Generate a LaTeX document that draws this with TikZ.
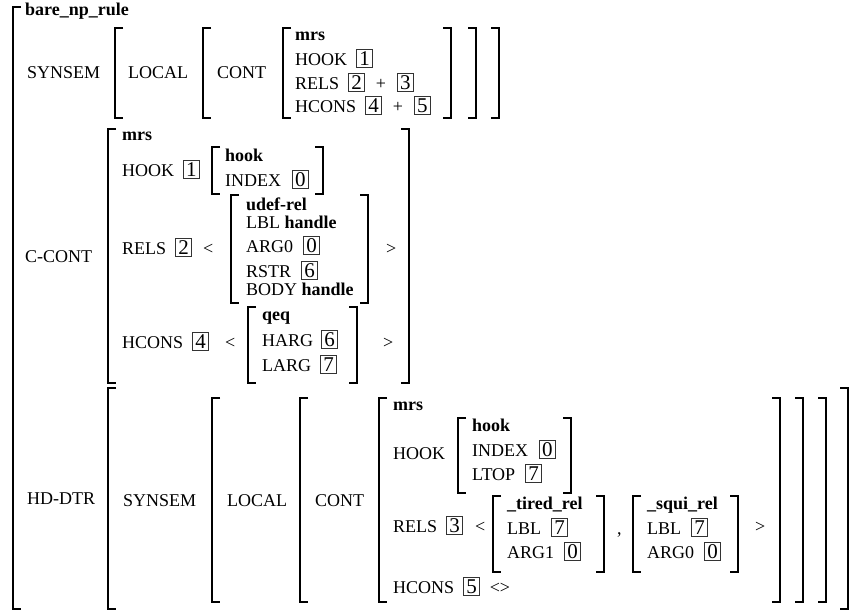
\documentclass[tikz,border=0pt]{standalone}
\usepackage{fontspec}
\setmainfont{Liberation Serif}
\newcommand{\avmL}[3]{\draw[brk] (#1+8,#2) -- (#1,#2) -- (#1,#3) -- (#1+8,#3);}
\newcommand{\avmR}[3]{\draw[brk] (#1-8,#2) -- (#1,#2) -- (#1,#3) -- (#1-8,#3);}
\begin{document}
\begin{tikzpicture}[x=1pt,y=-1pt,
  avmtxt/.style={anchor=base west, inner sep=0pt, font=\fontsize{18}{20}\selectfont},
  avmtype/.style={anchor=base west, inner sep=0pt, font=\fontsize{18}{20}\selectfont\bfseries},
  avmtag/.style={anchor=base west, draw=black!80, line width=0.7pt, inner xsep=2.5pt, inner ysep=2pt, text depth=0pt, font=\fontsize{21}{21}\selectfont},
  brk/.style={line width=1.2pt}]
\fill[white] (0,0) rectangle (867,613);
\useasboundingbox (0,0) rectangle (867,613);
% outer
\avmL{13}{7}{609}
\node[avmtype] (ttl) at (25,16) {bare\_np\_rule};
% ---------- row 1: SYNSEM
\node[avmtxt] (s1) at (27,78) {SYNSEM};
\avmL{115}{28}{118}
\node[avmtxt] (l1) at (128,78) {LOCAL};
\avmL{203}{28}{118}
\node[avmtxt] (c1) at (217,78) {CONT};
\avmL{283}{28}{118}
\node[avmtype] (m1) at (295,40) {mrs};
\node[avmtxt] (h1) at (295,65) {HOOK};
\node[avmtag] (h1v) at ([xshift=9pt]h1.base east) {1};
\node[avmtxt] (r1) at (295,89) {RELS};
\node[avmtag] (r1a) at ([xshift=9pt]r1.base east) {2};
\node[avmtxt] (r1p) at ([xshift=11pt]r1a.base east) {+};
\node[avmtag] (r1b) at ([xshift=11pt]r1p.base east) {3};
\node[avmtxt] (hc1) at (295,112) {HCONS};
\node[avmtag] (hc1a) at ([xshift=9pt]hc1.base east) {4};
\node[avmtxt] (hc1p) at ([xshift=11pt]hc1a.base east) {+};
\node[avmtag] (hc1b) at ([xshift=11pt]hc1p.base east) {5};
\avmR{451}{28}{118}
\avmR{476}{28}{118}
\avmR{499}{28}{118}
% ---------- row 2: C-CONT
\node[avmtxt] (cc) at (25,262) {C-CONT};
\avmL{108}{129}{383}
\avmR{409}{129}{383}
\node[avmtype] (m2) at (122,140) {mrs};
\node[avmtxt] (h2) at (122,176) {HOOK};
\node[avmtag] (h2v) at ([xshift=9pt]h2.base east) {1};
\avmL{212}{147}{194}
\avmR{323}{147}{194}
\node[avmtype] (hk2) at (225,161) {hook};
\node[avmtxt] (ix2) at (225,186) {INDEX};
\node[avmtag] (ix2v) at ([xshift=11pt]ix2.base east) {0};
\node[avmtxt] (r2) at (122,254) {RELS};
\node[avmtag] (r2v) at ([xshift=9pt]r2.base east) {2};
\node[avmtxt] (r2l) at (203,254) {<};
\avmL{231}{195}{303}
\avmR{368}{195}{303}
\node[avmtype] (ud) at (246,210) {udef-rel};
\node[avmtxt] (udl) at (246,228) {LBL \textbf{handle}};
\node[avmtxt] (uda) at (246,252) {ARG0};
\node[avmtag] (udav) at ([xshift=10pt]uda.base east) {0};
\node[avmtxt] (udr) at (246,277) {RSTR};
\node[avmtag] (udrv) at ([xshift=10pt]udr.base east) {6};
\node[avmtxt] (udb) at (246,295) {BODY \textbf{handle}};
\node[avmtxt] (r2g) at (386,254) {>};
\node[avmtxt] (hc2) at (122,348) {HCONS};
\node[avmtag] (hc2v) at ([xshift=9pt]hc2.base east) {4};
\node[avmtxt] (hc2l) at (225,348) {<};
\avmL{248}{307}{383}
\avmR{357}{307}{383}
\node[avmtype] (qq) at (262,320) {qeq};
\node[avmtxt] (qh) at (262,346) {HARG};
\node[avmtag] (qhv) at ([xshift=8pt]qh.base east) {6};
\node[avmtxt] (ql) at (262,371) {LARG};
\node[avmtag] (qlv) at ([xshift=9pt]ql.base east) {7};
\node[avmtxt] (hc2g) at (383,348) {>};
% ---------- row 3: HD-DTR
\node[avmtxt] (hd) at (27,504) {HD-DTR};
\avmL{108}{388}{609}
\avmR{848}{388}{609}
\node[avmtxt] (s3) at (123,506) {SYNSEM};
\avmL{212}{398}{602}
\avmR{826}{398}{602}
\node[avmtxt] (l3) at (227,506) {LOCAL};
\avmL{300}{398}{602}
\avmR{803}{398}{602}
\node[avmtxt] (c3) at (315,506) {CONT};
\avmL{379}{398}{602}
\avmR{780}{398}{602}
\node[avmtype] (m3) at (393,410) {mrs};
\node[avmtxt] (h3) at (393,459) {HOOK};
\avmL{458}{418}{493}
\avmR{571}{418}{493}
\node[avmtype] (hk3) at (472,431) {hook};
\node[avmtxt] (ix3) at (472,456) {INDEX};
\node[avmtag] (ix3v) at ([xshift=11pt]ix3.base east) {0};
\node[avmtxt] (lt3) at (472,480) {LTOP};
\node[avmtag] (lt3v) at ([xshift=10pt]lt3.base east) {7};
\node[avmtxt] (r3) at (393,532) {RELS};
\node[avmtag] (r3v) at ([xshift=9pt]r3.base east) {3};
\node[avmtxt] (r3l) at (475,532) {<};
\avmL{493}{496}{572}
\avmR{604}{496}{572}
\node[avmtype] (tr) at (507,509) {\_tired\_rel};
\node[avmtxt] (trl) at (507,534) {LBL};
\node[avmtag] (trlv) at ([xshift=10pt]trl.base east) {7};
\node[avmtxt] (tra) at (507,558) {ARG1};
\node[avmtag] (trav) at ([xshift=10pt]tra.base east) {0};
\node[avmtxt] (cm) at (617,534) {,};
\avmL{633}{496}{572}
\avmR{738}{496}{572}
\node[avmtype] (sq) at (647,509) {\_squi\_rel};
\node[avmtxt] (sql) at (647,534) {LBL};
\node[avmtag] (sqlv) at ([xshift=10pt]sql.base east) {7};
\node[avmtxt] (sqa) at (647,558) {ARG0};
\node[avmtag] (sqav) at ([xshift=10pt]sqa.base east) {0};
\node[avmtxt] (r3g) at (755,532) {>};
\node[avmtxt] (hc3) at (393,593) {HCONS};
\node[avmtag] (hc3v) at ([xshift=9pt]hc3.base east) {5};
\node[avmtxt] (hc3e) at ([xshift=10pt]hc3v.base east) {<>};
\end{tikzpicture}
\end{document}
